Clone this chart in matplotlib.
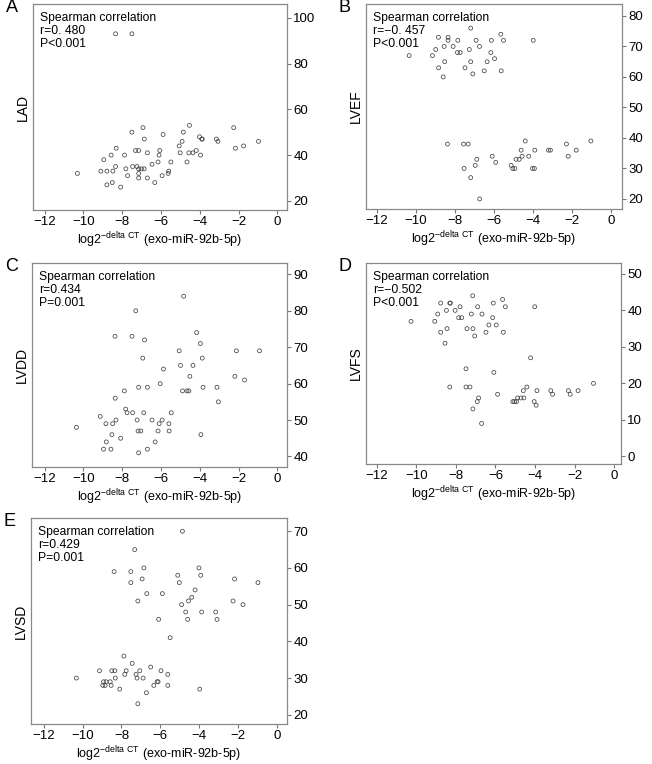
import numpy as np
import matplotlib.pyplot as plt

plt.rcParams['font.family'] = ['Liberation Sans', 'DejaVu Sans']

# Panel A: LAD
x_a = [-8.34, -7.50, -10.31, -9.10, -8.95, -8.79, -8.79, -8.57, -8.51, -8.48,
       -8.34, -8.31, -8.08, -7.88, -7.81, -7.72, -7.50, -7.46, -7.31, -7.24,
       -7.15, -7.15, -7.15, -7.15, -7.01, -6.93, -6.87, -6.86, -6.70, -6.70,
       -6.46, -6.32, -6.15, -6.10, -6.06, -5.94, -5.89, -5.63, -5.60, -5.49,
       -5.06, -5.01, -4.91, -4.85, -4.66, -4.56, -4.53, -4.35, -4.18, -4.01,
       -3.96, -3.90, -3.87, -3.14, -3.06, -2.25, -2.16, -1.74, -0.97]
lad = [93, 93, 32, 33, 38, 33, 27, 40, 28, 33,
       35, 43, 26, 40, 34, 31, 50, 35, 42, 35,
       42, 34, 32, 30, 34, 52, 34, 47, 41, 30,
       36, 28, 37, 40, 42, 31, 49, 32, 33, 37,
       44, 41, 46, 50, 37, 41, 53, 41, 42, 48,
       40, 47, 47, 47, 46, 52, 43, 44, 46]

# Panel B: LVEF
x_b = [-10.34, -9.15, -8.98, -8.84, -8.83, -8.60, -8.55, -8.52, -8.35, -8.35,
       -8.38, -8.09, -7.85, -7.87, -7.73, -7.56, -7.48, -7.53, -7.32, -7.26,
       -7.19, -7.19, -7.19, -7.08, -6.96, -6.91, -6.88, -6.74, -6.73, -6.50,
       -6.35, -6.16, -6.13, -6.09, -5.97, -5.91, -5.65, -5.63, -5.51, -5.12,
       -5.04, -4.93, -4.87, -4.71, -4.61, -4.56, -4.40, -4.22, -4.03, -3.99,
       -3.93, -3.91, -3.21, -3.11, -2.29, -2.20, -1.79, -1.04]
lvef = [67, 67, 69, 73, 63, 60, 70, 65, 73, 72,
        38, 70, 72, 68, 68, 38, 63, 30, 38, 69,
        76, 65, 27, 61, 31, 72, 33, 70, 20, 62,
        65, 68, 72, 34, 66, 32, 74, 62, 72, 31,
        30, 30, 33, 33, 36, 34, 39, 34, 30, 72,
        30, 36, 36, 36, 38, 34, 36, 39]

# Panel C: LVDD
x_c = [-10.36, -9.13, -8.96, -8.84, -8.82, -8.58, -8.53, -8.49, -8.37, -8.36,
       -8.32, -8.08, -7.89, -7.82, -7.75, -7.46, -7.49, -7.30, -7.23, -7.18,
       -7.15, -7.15, -7.04, -6.94, -6.89, -6.85, -6.70, -6.70, -6.46, -6.30,
       -6.15, -6.09, -6.04, -5.94, -5.87, -5.59, -5.58, -5.47, -5.06, -4.99,
       -4.89, -4.83, -4.66, -4.56, -4.51, -4.35, -4.16, -3.97, -3.94, -3.87,
       -3.83, -3.11, -3.04, -2.19, -2.11, -1.69, -0.92]
lvdd = [48, 51, 42, 49, 44, 42, 46, 49, 73, 56,
        50, 45, 58, 53, 52, 52, 73, 80, 50, 47,
        59, 41, 47, 67, 52, 72, 59, 42, 50, 44,
        47, 49, 60, 50, 64, 49, 47, 52, 69, 65,
        58, 84, 58, 58, 62, 65, 74, 71, 46, 67,
        59, 59, 55, 62, 69, 61, 69]

# Panel D: LVFS
x_d = [-10.27, -9.07, -8.92, -8.77, -8.77, -8.55, -8.48, -8.45, -8.31, -8.28,
       -8.31, -8.04, -7.86, -7.79, -7.71, -7.49, -7.49, -7.44, -7.29, -7.22,
       -7.15, -7.14, -7.14, -7.05, -6.90, -6.92, -6.85, -6.70, -6.68, -6.48,
       -6.33, -6.14, -6.11, -6.08, -5.96, -5.89, -5.64, -5.60, -5.50, -5.12,
       -5.03, -4.93, -4.88, -4.71, -4.56, -4.59, -4.41, -4.22, -4.04, -4.01,
       -3.94, -3.90, -3.20, -3.11, -2.31, -2.22, -1.82, -1.04]
lvfs = [37, 37, 39, 42, 34, 31, 40, 35, 42, 42,
        19, 40, 38, 41, 38, 24, 19, 35, 19, 39,
        44, 35, 13, 33, 41, 15, 16, 9, 39, 34,
        36, 38, 42, 23, 36, 17, 43, 34, 41, 15,
        15, 15, 16, 16, 16, 18, 19, 27, 15, 41,
        14, 18, 18, 17, 18, 17, 18, 20]

# Panel E: LVSD
x_e = [-10.32, -9.13, -8.92, -8.96, -8.84, -8.79, -8.58, -8.53, -8.50, -8.38,
       -8.34, -8.32, -8.09, -7.88, -7.83, -7.76, -7.52, -7.52, -7.45, -7.32,
       -7.25, -7.20, -7.16, -7.16, -7.06, -6.94, -6.89, -6.85, -6.72, -6.70,
       -6.50, -6.34, -6.17, -6.12, -6.09, -5.97, -5.90, -5.62, -5.62, -5.50,
       -5.11, -5.03, -4.91, -4.87, -4.70, -4.56, -4.60, -4.39, -4.22, -4.02,
       -3.98, -3.93, -3.88, -3.16, -3.09, -2.27, -2.19, -1.76, -0.99]
lvsd = [30, 32, 29, 28, 28, 29, 29, 28, 32, 59,
        32, 30, 27, 36, 31, 32, 59, 56, 34, 65,
        31, 30, 51, 23, 32, 57, 30, 60, 26, 53,
        33, 28, 29, 29, 46, 32, 53, 31, 28, 41,
        58, 56, 50, 70, 48, 51, 46, 52, 54, 60,
        27, 58, 48, 48, 46, 51, 57, 50, 56]

panels = [
    ('A', x_a, lad, 'LAD', 'r=0. 480\nP<0.001', [0.0506, 0.7251, 0.3896, 0.2696],
     (-12.6, 0.5), (16, 106), [20, 40, 60, 80, 100]),
    ('B', x_b, lvef, 'LVEF', 'r=\u22120. 457\nP<0.001', [0.5613, 0.7264, 0.3926, 0.2683],
     (-12.55, 0.55), (16.7, 83.9), [20, 30, 40, 50, 60, 70, 80]),
    ('C', x_c, lvdd, 'LVDD', 'r=0.434\nP=0.001', [0.0491, 0.3887, 0.3911, 0.2670],
     (-12.65, 0.5), (37.1, 93.1), [40, 50, 60, 70, 80, 90]),
    ('D', x_d, lvfs, 'LVFS', 'r=\u22120.502\nP<0.001', [0.5613, 0.3927, 0.3911, 0.2631],
     (-12.55, 0.35), (-2.1, 53), [0, 10, 20, 30, 40, 50]),
    ('E', x_e, lvsd, 'LVSD', 'r=0.429\nP=0.001', [0.0475, 0.0524, 0.3926, 0.2696],
     (-12.65, 0.5), (17.5, 73.6), [20, 30, 40, 50, 60, 70]),
]

fig = plt.figure(figsize=(6.52, 7.64), dpi=100)

for letter, xs, ys, name, stats, pos, xlim, ylim, yticks in panels:
    ax = fig.add_axes(pos)
    ax.scatter(xs, ys, s=8, facecolors='none', edgecolors='#444444', linewidths=0.55)
    ax.set_xlim(*xlim)
    ax.set_ylim(*ylim)
    ax.set_xticks([-12, -10, -8, -6, -4, -2, 0])
    ax.set_xticklabels(['\u221212', '\u221210', '\u22128', '\u22126', '\u22124', '\u22122', '0'])
    ax.set_yticks(yticks)
    ax.yaxis.tick_right()
    ax.yaxis.set_label_position('left')
    ax.tick_params(direction='out', length=3, width=0.8, color='#777777',
                   labelsize=9.5, pad=1.5)
    for sp in ax.spines.values():
        sp.set_color('#888888')
        sp.set_linewidth(0.9)
    ax.set_ylabel(name, fontsize=10, labelpad=2)
    ax.set_xlabel(r'log2$^{\mathregular{-delta\ CT}}$ (exo-miR-92b-5p)', fontsize=9, labelpad=1.5)
    ax.text(0.027, 0.96, 'Spearman correlation\n' + stats, transform=ax.transAxes,
            ha='left', va='top', fontsize=8.7, linespacing=1.1)
    fig.text(pos[0] - 0.042, pos[1] + pos[3] - 0.004, letter, fontsize=13,
             ha='left', va='center')

plt.savefig('out.png', dpi=100)
